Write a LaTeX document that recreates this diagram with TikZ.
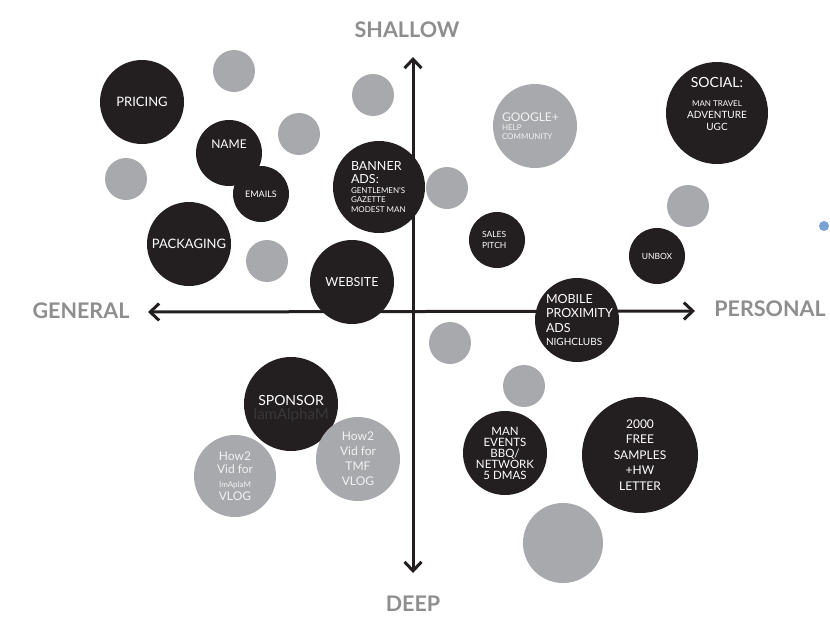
\documentclass[tikz,border=0pt]{standalone}
\usepackage{xcolor}
\usepackage{fontspec}
\setmainfont{Lato}
\usepackage{tikz}
\usetikzlibrary{arrows.meta,positioning}

\definecolor{dotblack}{HTML}{231F20}
\definecolor{dotgrey}{HTML}{A7A9AC}
\definecolor{labelgrey}{HTML}{8E8E8E}
\definecolor{dotblue}{HTML}{4F82C8}

\newcommand{\fs}[2]{\fontsize{#1}{#2}\selectfont}

\begin{document}
\begin{tikzpicture}[x=1pt,y=-1pt,
    blackdot/.style={circle,fill=dotblack,text=white,inner sep=0pt,align=center},
    greydot/.style={circle,fill=dotgrey,text=white!95!black,inner sep=0pt,align=center},
    axislabel/.style={text=labelgrey,font=\fs{21.5}{22}\bfseries},
    axis/.style={line width=3pt,dotblack,
      {Straight Barb[length=9pt,width=17pt]}-{Straight Barb[length=9pt,width=17pt]}}]
      \useasboundingbox (0,0) rectangle (830,630);
      \coordinate (top) at (413,57);
      \coordinate (bottom) at (413,573);
      \coordinate (left) at (148,312);
      \coordinate (right) at (695,311);
      \draw [axis] (bottom) -- (top);
      \draw [axis] (left) -- (right);
      \node [axislabel] (shallow) at (407,30) {SHALLOW};
      \node [axislabel] (deep) at (413,604) {DEEP};
      \node [axislabel] (general) at (81,311) {GENERAL};
      \node [axislabel] (personal) at (770,309) {PERSONAL};
      \node [greydot,minimum size=42pt] (g1) at (234,71) {};
      \node [greydot,minimum size=42pt] (g2) at (299,134) {};
      \node [greydot,minimum size=42pt] (g3) at (126,179) {};
      \node [greydot,minimum size=42pt] (g4) at (373,95) {};
      \node [greydot,minimum size=42pt] (g5) at (447,188) {};
      \node [greydot,minimum size=42pt] (g6) at (267,261) {};
      \node [greydot,minimum size=42pt] (g7) at (688,206) {};
      \node [greydot,minimum size=42pt] (g8) at (450,343) {};
      \node [greydot,minimum size=42pt] (g9) at (524,386) {};
      \node [greydot,minimum size=80pt] (g10) at (563,543) {};
      \node [circle,fill=dotblue!75,inner sep=0pt,minimum size=10pt] (blue) at (824,226) {};
      \node [blackdot,minimum size=84pt,font=\fs{13}{15}] (pricing) at (142,102) {PRICING};
      \node [blackdot,minimum size=66pt,font=\fs{12}{14}] (name) at (229,153) {NAME\\[4pt]};
      \node [blackdot,minimum size=56pt,font=\fs{9}{10}] (emails) at (261,194) {EMAILS};
      \node [blackdot,minimum size=92pt] (banner) at (379,187)
        {\parbox{56pt}{\raggedright\fs{12.5}{13}BANNER\\ADS:\\\fs{8}{9.5}GENTLEMEN'S\\GAZETTE\\MODEST MAN}};
      \node [blackdot,minimum size=84pt,font=\fs{13}{15}] (packaging) at (189,244) {PACKAGING};
      \node [blackdot,minimum size=84pt,font=\fs{12.5}{15}] (website) at (352,282) {WEBSITE};
      \node [greydot,minimum size=84pt] (google) at (535,126)
        {\parbox{66pt}{\raggedright\fs{12}{13}GOOGLE+\\\fs{8}{9}HELP\\COMMUNITY}};
      \node [blackdot,minimum size=102pt] (social) at (717,113)
        {\fs{14}{15}SOCIAL:\\[7pt]\fs{8}{9.5}MAN TRAVEL\\ADVENTURE\\UGC\\[6pt]};
      \node [blackdot,minimum size=56pt] (sales) at (497,240)
        {\parbox{30pt}{\raggedright\fs{8.5}{10.5}SALES\\PITCH}};
      \node [blackdot,minimum size=56pt,font=\fs{8.5}{10}] (unbox) at (657,256) {UNBOX};
      \node [blackdot,minimum size=84pt] (mobile) at (577,320)
        {\parbox{62pt}{\raggedright\fs{12.5}{14.5}MOBILE\\PROXIMITY\\ADS\\\fs{10}{13}NIGHCLUBS}};
      \node [blackdot,minimum size=94pt] (sponsor) at (291,404)
        {\rule{0pt}{20pt}\fs{14}{16}SPONSOR\\[2.5pt]\textcolor{black!78}{\fs{15}{16}IamAlphaM}};
      \node [greydot,minimum size=82pt,font=\fs{12}{13.5}] (howto1) at (235,476)
        {How2\\Vid for\\{\fs{8}{10}ImAplaM}\\VLOG};
      \node [greydot,minimum size=84pt,font=\fs{12}{15}] (howto2) at (358,459)
        {How2\\Vid for\\TMF\\VLOG};
      \node [blackdot,minimum size=84pt,font=\fs{11.5}{11}] (events) at (505,453)
        {MAN\\EVENTS\\BBQ/\\NETWORK\\5 DMAS};
      \node [blackdot,minimum size=116pt,font=\fs{12}{15.5}] (samples) at (640,455)
        {2000\\FREE\\SAMPLES\\+HW\\LETTER};
    \end{tikzpicture}
\end{document}
